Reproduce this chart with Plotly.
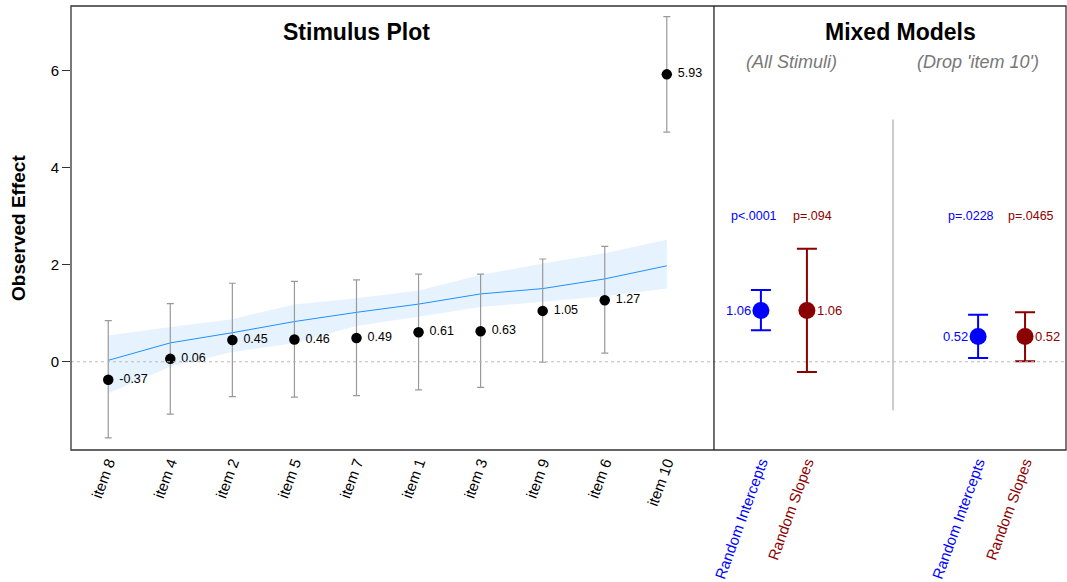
import plotly.graph_objects as go
from plotly.subplots import make_subplots

# ---- data: stimulus plot ----
items = ["item 8", "item 4", "item 2", "item 5", "item 7", "item 1", "item 3", "item 9", "item 6", "item 10"]
effects = [-0.37, 0.06, 0.45, 0.46, 0.49, 0.61, 0.63, 1.05, 1.27, 5.93]
ci_upper = [0.85, 1.20, 1.62, 1.66, 1.69, 1.81, 1.81, 2.12, 2.38, 7.12]
ci_lower = [-1.57, -1.08, -0.72, -0.73, -0.70, -0.58, -0.53, -0.01, 0.18, 4.74]
fit_line = [0.03, 0.39, 0.60, 0.83, 1.02, 1.19, 1.40, 1.51, 1.71, 1.98]
band_upper = [0.54, 0.72, 0.88, 1.18, 1.31, 1.47, 1.79, 2.03, 2.24, 2.52]
band_lower = [-0.65, -0.10, 0.20, 0.39, 0.74, 0.93, 1.13, 1.24, 1.35, 1.51]

# ---- data: mixed models ----
model_names = ["Random Intercepts", "Random Slopes", "Random Intercepts", "Random Slopes"]
model_pos = [1.0, 2.0, 5.72, 6.74]
model_est = [1.06, 1.06, 0.52, 0.52]
model_upper = [1.48, 2.33, 0.97, 1.02]
model_lower = [0.65, -0.21, 0.08, 0.01]
model_p = ["p<.0001", "p=.094", "p=.0228", "p=.0465"]
model_colors = ["#0000FF", "#8B0000", "#0000FF", "#8B0000"]
divider_pos = 3.87

FONT = "Liberation Sans, Arial, sans-serif"

fig = make_subplots(rows=1, cols=2, shared_yaxes=True, horizontal_spacing=0,
                    column_widths=[0.6462, 0.3538])

# confidence band
fig.add_trace(go.Scatter(
    x=items + items[::-1], y=band_upper + band_lower[::-1],
    fill="toself", fillcolor="rgba(30,144,255,0.11)", line=dict(width=0),
    mode="lines", hoverinfo="skip", showlegend=False), row=1, col=1)
fig.add_trace(go.Scatter(
    x=items, y=fit_line, mode="lines", line=dict(color="#1E90FF", width=1),
    showlegend=False), row=1, col=1)

# error bars + points
fig.add_trace(go.Scatter(
    x=items, y=effects, mode="markers+text",
    marker=dict(color="black", size=10.5),
    error_y=dict(type="data", symmetric=False,
                 array=[u - e for u, e in zip(ci_upper, effects)],
                 arrayminus=[e - l for e, l in zip(effects, ci_lower)],
                 color="#999999", thickness=1.2, width=3.5),
    text=[" " + f"{v:.2f}" for v in effects], textposition="middle right",
    textfont=dict(family=FONT, size=12.5, color="black"),
    showlegend=False), row=1, col=1)

# mixed models
for i in range(len(model_names)):
    left = (i % 2 == 0)
    fig.add_trace(go.Scatter(
        x=[model_pos[i]], y=[model_est[i]], mode="markers",
        marker=dict(color=model_colors[i], size=17),
        error_y=dict(type="data", symmetric=False,
                     array=[model_upper[i] - model_est[i]],
                     arrayminus=[model_est[i] - model_lower[i]],
                     color=model_colors[i], thickness=2, width=10),
        showlegend=False), row=1, col=2)
    fig.add_annotation(x=model_pos[i], y=model_est[i], xref="x2", yref="y",
                       text=f"{model_est[i]:.2f}", showarrow=False,
                       xanchor="right" if left else "left", yanchor="middle",
                       xshift=-8 if left else 8,
                       font=dict(family=FONT, size=13, color=model_colors[i]))
    fig.add_annotation(x=model_pos[i], y=3.0, xref="x2", yref="y",
                       text=model_p[i], showarrow=False,
                       xanchor="center", yanchor="middle",
                       xshift=-7 if left else 6,
                       font=dict(family=FONT, size=12.5, color=model_colors[i]))

# gray divider in mixed models panel
fig.add_shape(type="line", xref="x2", yref="y", x0=divider_pos, x1=divider_pos,
              y0=-1, y1=5, line=dict(color="#BBBBBB", width=1.5))

# zero reference line
fig.add_shape(type="line", xref="paper", yref="y", x0=0, x1=1, y0=0, y1=0,
              line=dict(color="#BBBBBB", width=1, dash="dot"))

# frame
fig.add_shape(type="rect", xref="paper", yref="paper", x0=0, x1=1, y0=0, y1=1,
              line=dict(color="#333333", width=1.3))
fig.add_shape(type="line", xref="paper", yref="paper", x0=0.6462, x1=0.6462, y0=0, y1=1,
              line=dict(color="#222222", width=1.3))

# titles
def label(x, y, text, size, color, angle=0):
    fig.add_annotation(xref="paper", yref="paper", x=x, y=y, text=text, showarrow=False,
                       xanchor="center", yanchor="middle", textangle=angle,
                       font=dict(family=FONT, size=size, color=color))

label(0.2874, 0.9414, "<b>Stimulus Plot</b>", 23, "black")
label(0.834, 0.9414, "<b>Mixed Models</b>", 23, "black")
label(0.7246, 0.874, "<i>(All Stimuli)</i>", 18, "#777777")
label(0.9116, 0.874, "<i>(Drop 'item 10')</i>", 18, "#777777")
label(-53 / 995, 0.5, "<b>Observed Effect</b>", 19, "black", angle=-90)

fig.update_xaxes(row=1, col=1, range=[-0.6, 9.76], showgrid=False, zeroline=False,
                 tickangle=-70, ticks="", tickfont=dict(family=FONT, size=15, color="black"),
                 showline=False, automargin=False)
fig.update_xaxes(row=1, col=2, range=[-0.02, 7.63], showgrid=False, zeroline=False,
                 tickmode="array", tickvals=model_pos,
                 ticktext=[f"<span style='color:{c}'>{n}</span>" for n, c in zip(model_names, model_colors)],
                 tickangle=-70, ticks="", tickfont=dict(family=FONT, size=15),
                 showline=False, automargin=False)
fig.update_yaxes(row=1, col=1, range=[-1.82, 7.34], tickvals=[0, 2, 4, 6],
                 showgrid=False, zeroline=False, ticks="outside", ticklen=8,
                 tickcolor="#333333", tickfont=dict(family=FONT, size=15, color="black"),
                 automargin=False)
fig.update_yaxes(row=1, col=2, showgrid=False, zeroline=False, showticklabels=False, ticks="",
                 automargin=False)

fig.update_layout(width=1067, height=582, margin=dict(l=71, r=1, t=6, b=132),
                  plot_bgcolor="white", paper_bgcolor="white", showlegend=False)

post = ("document.body.style.margin='0';document.body.style.padding='0';"
        "document.body.style.overflow='hidden';"
        "var gd=document.getElementById('{plot_id}');"
        "Plotly.relayout(gd,{width:1067,height:582});")
fig.write_html("out.html", post_script=post, config={"displayModeBar": False})
